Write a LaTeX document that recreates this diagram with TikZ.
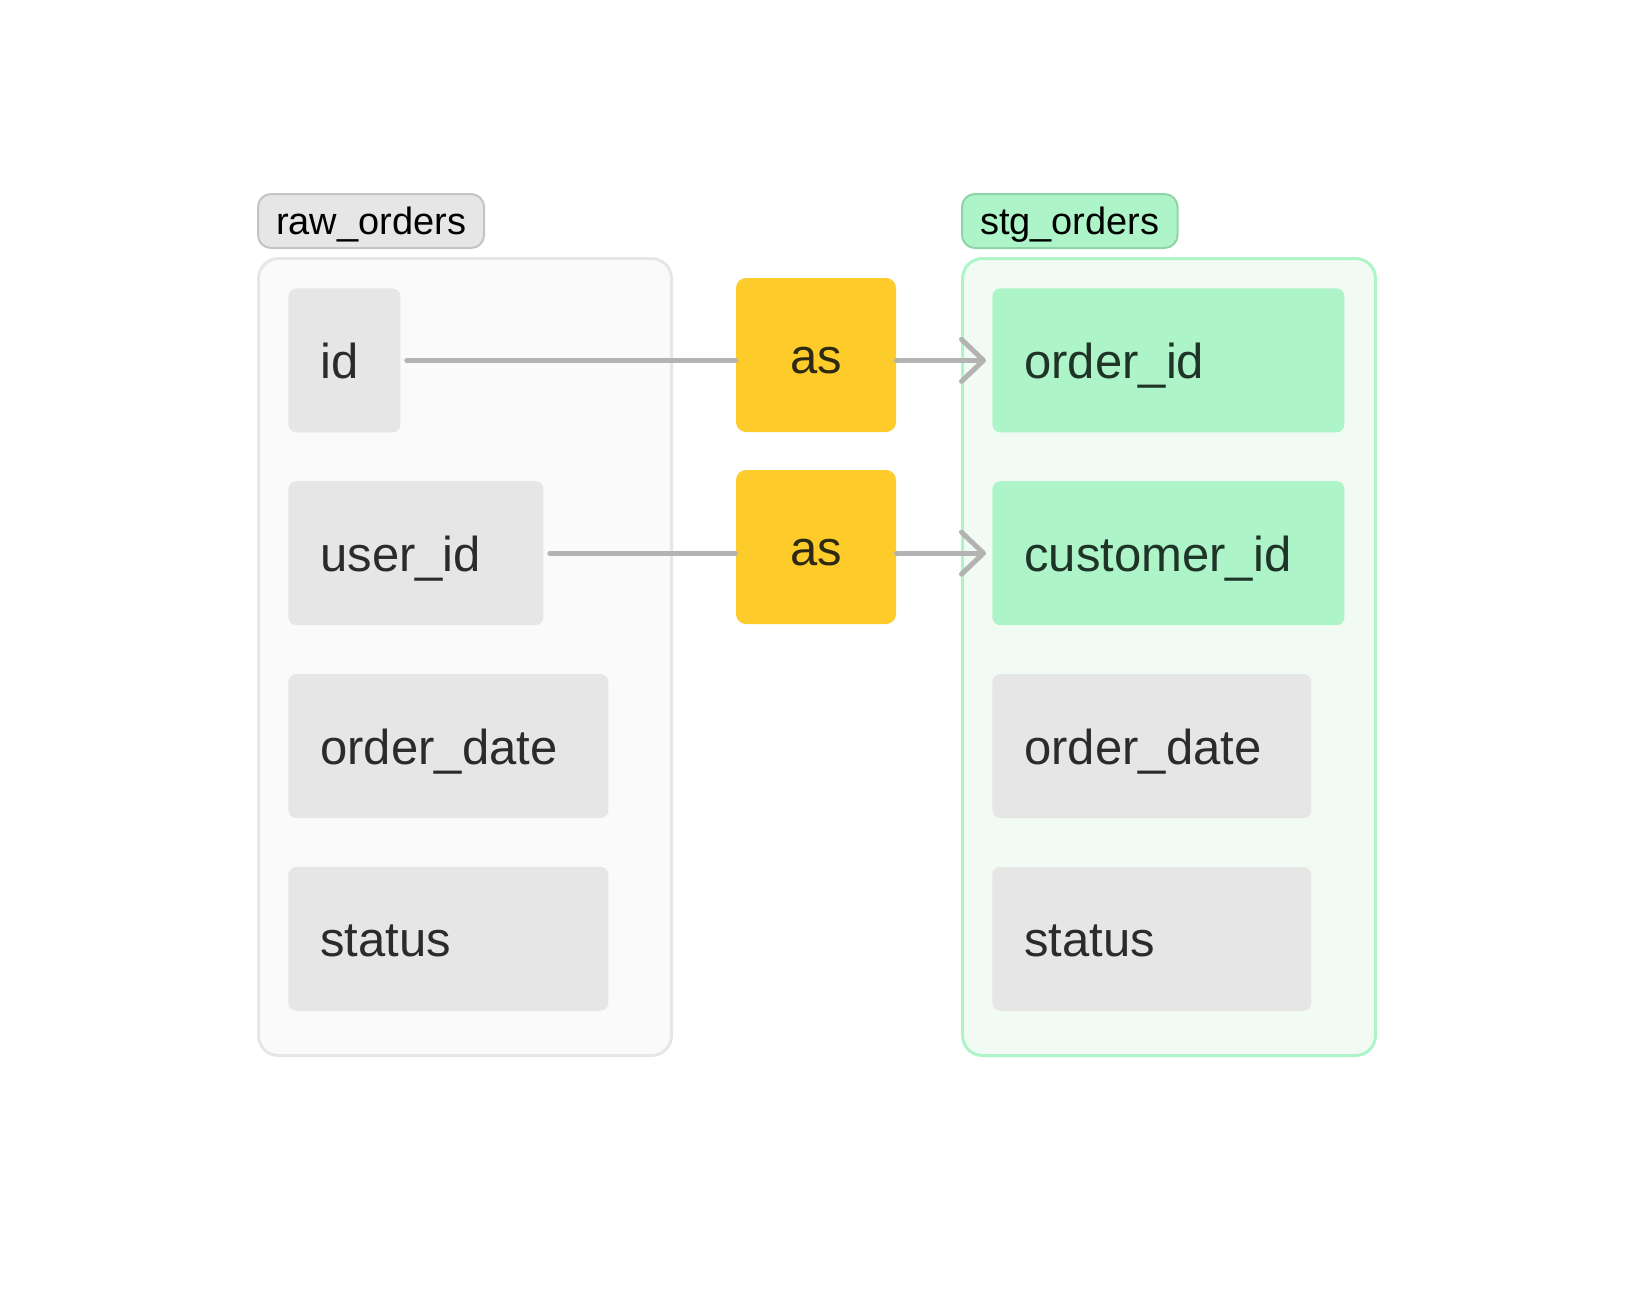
\documentclass[tikz,border=0pt]{standalone}
\usepackage{fontspec}
\setmainfont{Liberation Sans}
\usetikzlibrary{arrows.meta,positioning}

\definecolor{tablegray}{HTML}{FAFAFA}
\definecolor{tableedge}{HTML}{E6E6E6}
\definecolor{fieldgray}{HTML}{E6E6E6}
\definecolor{fieldtext}{HTML}{2B2B2B}
\definecolor{taggray}{HTML}{E6E6E6}
\definecolor{tagedge}{HTML}{C4C4C4}
\definecolor{stgfill}{HTML}{F1FBF4}
\definecolor{stgedge}{HTML}{ADF5C8}
\definecolor{stgfield}{HTML}{ADF5C8}
\definecolor{stgtext}{HTML}{1F3327}
\definecolor{stgtagedge}{HTML}{8FD4A6}
\definecolor{asyellow}{HTML}{FDCC2A}
\definecolor{astext}{HTML}{2E2A12}
\definecolor{linkgray}{HTML}{B3B3B3}

\begin{document}
\begin{tikzpicture}[
  x=0.5pt, y=-0.5pt,
  node distance=24pt,
  table/.style={draw=tableedge, fill=tablegray, line width=1.5pt, rounded corners=10pt,
    minimum width=206.5pt, minimum height=398.5pt, inner sep=0pt, anchor=north west},
  tag/.style={draw=tagedge, fill=taggray, line width=1pt, rounded corners=6.5pt,
    minimum height=27pt, inner xsep=9pt, inner ysep=0pt, anchor=north west,
    text height=13pt, text depth=0pt, font=\fontsize{19}{22}\selectfont},
  field/.style={fill=fieldgray, text=fieldtext, rounded corners=4pt, minimum height=72pt,
    inner xsep=16pt, inner ysep=0pt, align=left, text height=18pt, text depth=0pt,
    font=\fontsize{24.5}{29}\selectfont},
  rename/.style={fill=asyellow, text=astext, rounded corners=5pt, minimum width=80pt,
    minimum height=77pt, inner sep=0pt, text height=18pt, text depth=0pt,
    font=\fontsize{24.5}{29}\selectfont},
  link/.style={draw=linkgray, line width=2.5pt, line cap=round},
  arrow/.style={link, -{Straight Barb[length=11pt,width=21pt,line cap=round,line join=round]}, shorten >=3pt}
]
\useasboundingbox (0,0) rectangle (1632,1312);

% source table
\node[tag] (rawtag) at (257,193) {raw\_orders};
\node[table] (raw) at (257,257) {};
\node[field, anchor=north west, text width=24pt] (id) at (288,288) {id};
\node[field, below=24pt of id.south west, anchor=north west, text width=95.5pt] (userid) {user\_id};
\node[field, below=24pt of userid.south west, anchor=north west, text width=128pt] (odate) {order\_date};
\node[field, below=24pt of odate.south west, anchor=north west, text width=128pt] (status) {status};

% staging table
\node[tag, draw=stgtagedge, fill=stgfield] (stgtag) at (961,193) {stg\_orders};
\node[table, draw=stgedge, fill=stgfill] (stg) at (961,257) {};
\node[field, fill=stgfield, text=stgtext, anchor=north west, text width=144pt] (orderid) at (992,288) {order\_id};
\node[field, fill=stgfield, text=stgtext, below=24pt of orderid.south west, anchor=north west, text width=144pt] (custid) {customer\_id};
\node[field, below=24pt of custid.south west, anchor=north west, text width=127.5pt] (sodate) {order\_date};
\node[field, below=24pt of sodate.south west, anchor=north west, text width=127.5pt] (sstatus) {status};

% renames
\node[rename] (as1) at (816,355) {as};
\node[rename] (as2) at (816,547) {as};

\draw[link, shorten <=3pt] (id.east) -- (id.east -| as1.west);
\draw[arrow] (orderid.west -| as1.east) -- (orderid.west);
\draw[link, shorten <=3pt] (userid.east) -- (userid.east -| as2.west);
\draw[arrow] (custid.west -| as2.east) -- (custid.west);
\end{tikzpicture}
\end{document}
